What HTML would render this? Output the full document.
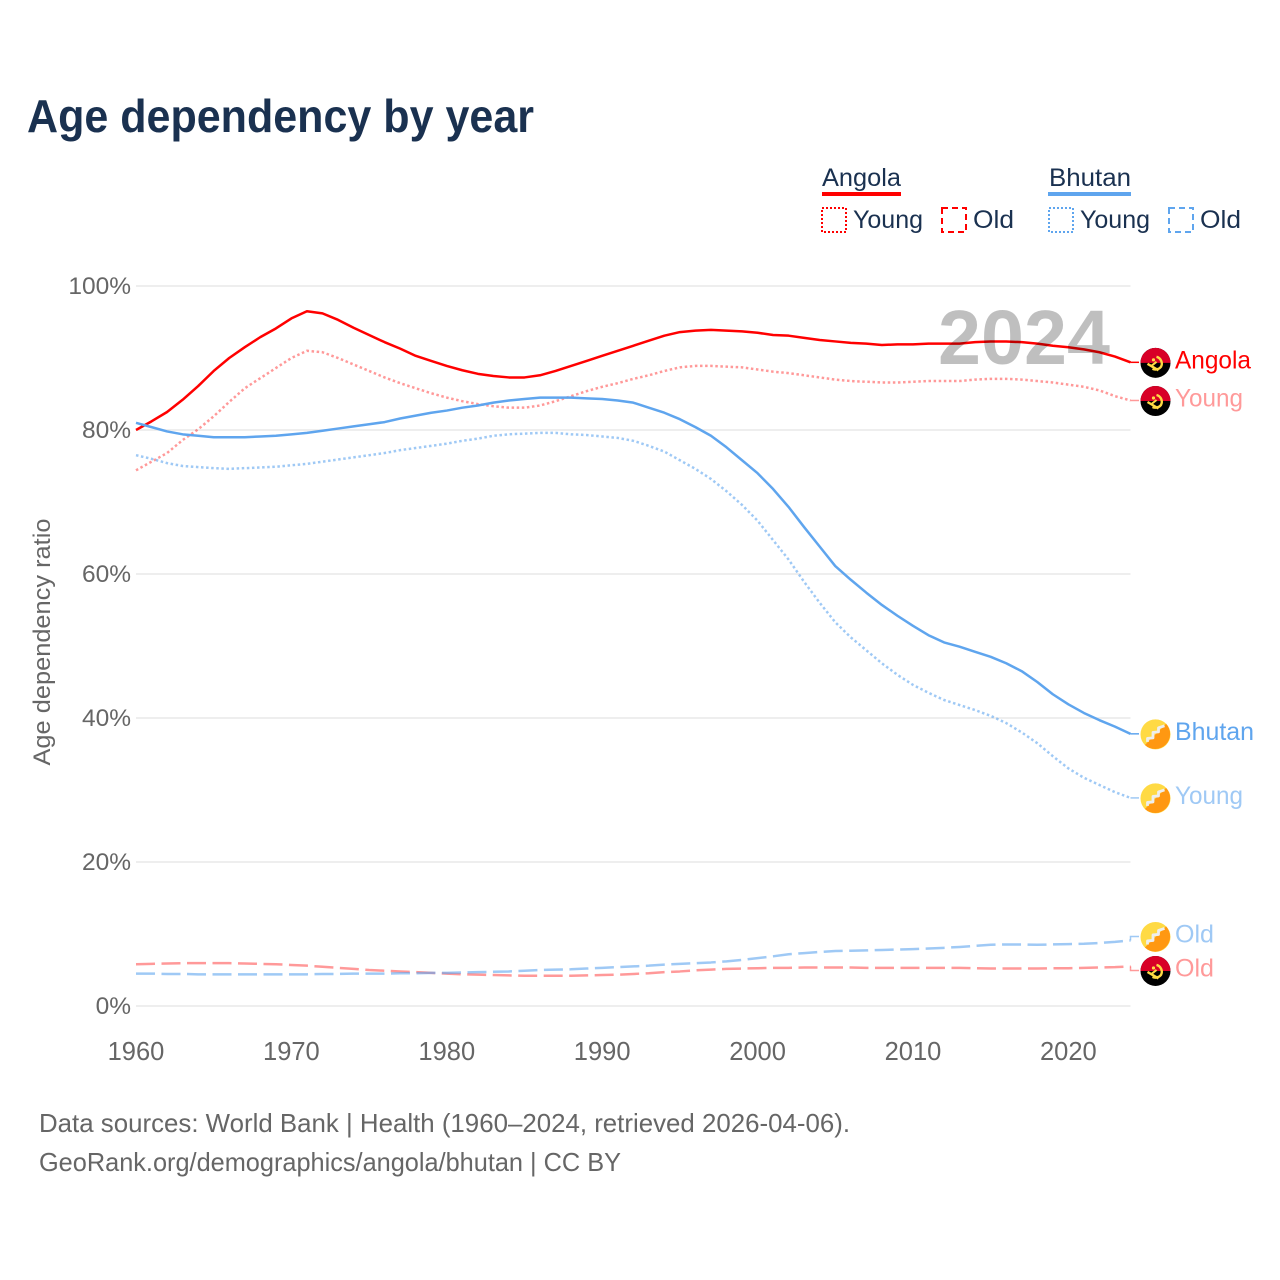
<!DOCTYPE html>
<html lang="en">
<head>
<meta charset="utf-8">
<title>Age dependency by year</title>
<style>
html,body{margin:0;padding:0;background:#fff;}
svg{display:block;font-family:"Liberation Sans",sans-serif;}
</style>
</head>
<body>
<svg id="chart" xmlns="http://www.w3.org/2000/svg" width="1280" height="1280" viewBox="0 0 1280 1280">
  <rect x="0" y="0" width="1280" height="1280" fill="#ffffff"/>
  <text x="27" y="132" font-size="46" font-weight="700" fill="#1a3150" textLength="507" lengthAdjust="spacingAndGlyphs">Age dependency by year</text>

  <g>
    <text x="822" y="186" font-size="25" fill="#1a3150" textLength="79" lengthAdjust="spacingAndGlyphs">Angola</text>
    <rect x="822" y="192" width="79" height="4" fill="#ff0000"/>
    <rect x="822" y="208" width="24" height="24" fill="none" stroke="#ff0000" stroke-width="2" stroke-dasharray="2 2"/>
    <text x="853" y="228" font-size="25" fill="#1a3150" textLength="70" lengthAdjust="spacingAndGlyphs">Young</text>
    <rect x="942" y="208" width="24" height="24" fill="none" stroke="#ff0000" stroke-width="2" stroke-dasharray="6 4"/>
    <text x="973" y="228" font-size="25" fill="#1a3150" textLength="41" lengthAdjust="spacingAndGlyphs">Old</text>
    <text x="1049" y="186" font-size="25" fill="#1a3150" textLength="82" lengthAdjust="spacingAndGlyphs">Bhutan</text>
    <rect x="1048" y="192" width="83" height="4" fill="#5fa5ee"/>
    <rect x="1049" y="208" width="24" height="24" fill="none" stroke="#5fa5ee" stroke-width="2" stroke-dasharray="2 2"/>
    <text x="1080" y="228" font-size="25" fill="#1a3150" textLength="70" lengthAdjust="spacingAndGlyphs">Young</text>
    <rect x="1169" y="208" width="24" height="24" fill="none" stroke="#5fa5ee" stroke-width="2" stroke-dasharray="6 4"/>
    <text x="1200" y="228" font-size="25" fill="#1a3150" textLength="41" lengthAdjust="spacingAndGlyphs">Old</text>
  </g>

  <g id="grid"></g>
  <g id="yticks"></g>
  <g id="xticks"></g>
  <text transform="translate(50,642) rotate(-90)" text-anchor="middle" font-size="24" fill="#666666" textLength="247" lengthAdjust="spacingAndGlyphs">Age dependency ratio</text>
  <g id="series"></g>
  <text x="938" y="364" font-size="77" font-weight="700" fill="#000000" fill-opacity="0.25" textLength="172" lengthAdjust="spacingAndGlyphs">2024</text>
  <g id="ends"></g>

  <text x="39" y="1132" font-size="26" fill="#666666" textLength="811" lengthAdjust="spacingAndGlyphs">Data sources: World Bank | Health (1960–2024, retrieved 2026-04-06).</text>
  <text x="39" y="1171" font-size="26" fill="#666666" textLength="582" lengthAdjust="spacingAndGlyphs">GeoRank.org/demographics/angola/bhutan | CC BY</text>
</svg>
<script>
const firstYear = 1960;
const lastYear = 2024;
const xTickYears = [1960, 1970, 1980, 1990, 2000, 2010, 2020];
const yTickValues = [0, 20, 40, 60, 80, 100];

const angolaTotal = [80.0,81.2,82.5,84.2,86.1,88.2,90.0,91.5,92.9,94.1,95.5,96.5,96.2,95.3,94.2,93.2,92.2,91.3,90.3,89.6,88.9,88.3,87.8,87.5,87.3,87.3,87.6,88.2,88.9,89.6,90.3,91.0,91.7,92.4,93.1,93.6,93.8,93.9,93.8,93.7,93.5,93.2,93.1,92.8,92.5,92.3,92.1,92.0,91.8,91.9,91.9,92.0,92.0,92.0,92.2,92.3,92.3,92.2,92.0,91.7,91.5,91.2,90.8,90.2,89.4];
const angolaYoung = [74.4,75.6,76.8,78.6,80.1,81.9,83.9,85.8,87.2,88.6,90.0,91.0,90.8,90.0,89.1,88.2,87.3,86.5,85.8,85.1,84.5,84.0,83.6,83.3,83.1,83.1,83.4,84.0,84.7,85.4,86.0,86.5,87.1,87.6,88.2,88.7,88.9,88.9,88.8,88.7,88.4,88.1,87.9,87.6,87.3,87.0,86.8,86.7,86.6,86.6,86.7,86.8,86.8,86.8,87.0,87.1,87.1,87.0,86.8,86.6,86.3,86.0,85.5,84.7,84.1];
const angolaOld = [5.8,5.85,5.9,5.95,5.95,5.95,5.95,5.9,5.85,5.8,5.7,5.6,5.45,5.3,5.15,5.0,4.9,4.8,4.7,4.6,4.5,4.4,4.35,4.3,4.25,4.2,4.2,4.2,4.2,4.25,4.3,4.35,4.45,4.55,4.7,4.8,4.95,5.05,5.15,5.2,5.25,5.3,5.3,5.35,5.35,5.35,5.35,5.3,5.3,5.3,5.3,5.3,5.3,5.3,5.25,5.2,5.2,5.2,5.2,5.25,5.25,5.3,5.35,5.4,5.5];
const bhutanTotal = [81.0,80.4,79.8,79.4,79.2,79.0,79.0,79.0,79.1,79.2,79.4,79.6,79.9,80.2,80.5,80.8,81.1,81.6,82.0,82.4,82.7,83.1,83.4,83.8,84.1,84.3,84.5,84.5,84.5,84.4,84.3,84.1,83.8,83.1,82.4,81.5,80.4,79.2,77.6,75.8,74.0,71.8,69.3,66.5,63.8,61.1,59.2,57.4,55.7,54.2,52.8,51.5,50.5,49.9,49.2,48.5,47.6,46.5,45.0,43.3,41.9,40.7,39.7,38.8,37.8];
const bhutanYoung = [76.5,76.0,75.4,75.0,74.85,74.7,74.6,74.7,74.8,74.9,75.1,75.3,75.6,75.9,76.2,76.5,76.8,77.2,77.5,77.8,78.1,78.5,78.8,79.2,79.4,79.5,79.6,79.6,79.4,79.3,79.1,78.9,78.5,77.8,77.0,75.8,74.6,73.2,71.5,69.6,67.4,64.7,62.0,58.9,56.0,53.3,51.2,49.4,47.6,46.0,44.6,43.5,42.5,41.8,41.1,40.3,39.3,38.0,36.5,34.7,33.0,31.7,30.7,29.7,28.9];
const bhutanOld = [4.5,4.5,4.45,4.45,4.4,4.4,4.4,4.4,4.4,4.4,4.4,4.4,4.45,4.45,4.5,4.5,4.5,4.55,4.55,4.6,4.6,4.65,4.7,4.75,4.8,4.9,5.0,5.05,5.1,5.2,5.3,5.4,5.5,5.6,5.75,5.85,5.95,6.05,6.2,6.4,6.65,6.9,7.18,7.35,7.5,7.64,7.68,7.72,7.78,7.84,7.9,7.98,8.08,8.2,8.35,8.5,8.55,8.55,8.5,8.55,8.6,8.65,8.75,8.9,9.1];

const seriesNames = ['angola-total', 'angola-young', 'angola-old', 'bhutan-total', 'bhutan-young', 'bhutan-old'];
const seriesValues = [angolaTotal, angolaYoung, angolaOld, bhutanTotal, bhutanYoung, bhutanOld];
const seriesLabels = ['Angola', 'Young', 'Old', 'Bhutan', 'Young', 'Old'];

const NS = 'http://www.w3.org/2000/svg';
const plot = { left: 136, right: 1130.5, top: 286, bottom: 1006 };
const x = function (year) { return plot.left + (year - firstYear) * (plot.right - plot.left) / (lastYear - firstYear); };
const y = function (value) { return plot.bottom - value * (plot.bottom - plot.top) / 100; };

function make(tag, attrs, parent, text) {
  const el = document.createElementNS(NS, tag);
  Object.keys(attrs).forEach(function (k) { el.setAttribute(k, attrs[k]); });
  if (text !== undefined) el.textContent = text;
  parent.appendChild(el);
  return el;
}

const gridG = document.getElementById('grid');
const yTickG = document.getElementById('yticks');
const xTickG = document.getElementById('xticks');
const seriesG = document.getElementById('series');
const endsG = document.getElementById('ends');

yTickValues.forEach(function (v) {
  const line = make('line', { x1: plot.left, x2: plot.right, y1: y(v), y2: y(v), stroke: '#e9e9e9', 'stroke-width': 1.5 }, gridG);
  
  
  const label = make('text', { x: 131, y: y(v) + 8, 'text-anchor': 'end', 'font-size': 24.5, fill: '#666666' }, yTickG, v + '%');
  
  
});

xTickYears.forEach(function (yr) {
  const label = make('text', { x: x(yr), y: 1060, 'text-anchor': 'middle', 'font-size': 25.5, fill: '#666666' }, xTickG, String(yr));
  
  
});

function lineStyle(index) {
  const isBhutan = index >= 3;
  const kind = index % 3;
  return {
    stroke: isBhutan ? '#5fa5ee' : '#ff0000',
    opacity: kind === 0 ? 1 : (isBhutan ? 0.6 : 0.4),
    width: 2.5,
    dash: kind === 0 ? 'none' : (kind === 1 ? '2.5 2.6' : '19 6.5')
  };
}

seriesValues.forEach(function (values, i) {
  const st = lineStyle(i);
  const d = values.map(function (v, k) {
    return (k ? 'L' : 'M') + x(firstYear + k).toFixed(2) + ',' + y(v).toFixed(2);
  }).join(' ');
  const path = make('path', { d: d, fill: 'none', stroke: st.stroke, 'stroke-opacity': st.opacity, 'stroke-width': st.width, 'stroke-dasharray': st.dash, 'stroke-linejoin': 'round' }, seriesG);
  
  
});

// Spread end labels so flags never overlap
const minGap = 34;
const order = seriesValues.map(function (values, i) {
  return { i: i, base: y(values[values.length - 1]), pos: y(values[values.length - 1]) };
}).sort(function (a, b) { return a.base - b.base; });
for (let pass = 0; pass < 8; pass++) {
  for (let k = 1; k < order.length; k++) {
    const overlap = minGap - (order[k].pos - order[k - 1].pos);
    if (overlap > 0) {
      order[k - 1].pos -= overlap / 2;
      order[k].pos += overlap / 2;
    }
  }
}

function drawAngolaFlag(g) {
  make('circle', { cx: 0, cy: 0, r: 15, fill: '#000000' }, g);
  make('path', { d: 'M-15,0 A15,15 0 0 1 15,0 Z', fill: '#d80027' }, g);
  make('path', { d: 'M1,-6 A7,7 0 0 1 5.500,4 A7,7 0 0 1 -3,6', fill: 'none', stroke: '#ffda44', 'stroke-width': 2.4 }, g);
  make('path', { d: 'M-8,1 L3,7.500', fill: 'none', stroke: '#ffda44', 'stroke-width': 2.4 }, g);
  make('circle', { cx: -2, cy: -3, r: 1.6, fill: '#ffda44' }, g);
  make('path', { d: 'M-4,3 L1,-1', fill: 'none', stroke: '#ffda44', 'stroke-width': 2 }, g);
}

function drawBhutanFlag(g) {
  make('circle', { cx: 0, cy: 0, r: 15, fill: '#ffda44' }, g);
  make('path', { d: 'M10.600,-10.600 A15,15 0 0 1 -10.600,10.600 Z', fill: '#ff9811' }, g);
  make('path', { d: 'M-8,7.500 L-8,4 L-2.500,3.500 L-2.500,-2 L3,-2.500 L3,-6.500 L9,-8.500', fill: 'none', stroke: '#eeeeee', 'stroke-width': 2.8, 'stroke-linejoin': 'round' }, g);
}

order.forEach(function (item) {
  const i = item.i;
  const st = lineStyle(i);
  const connector = make('path', {
    d: 'M' + plot.right + ',' + item.base.toFixed(2) + ' L' + plot.right + ',' + item.pos.toFixed(2) + ' L1139,' + item.pos.toFixed(2),
    fill: 'none', stroke: st.stroke, 'stroke-opacity': st.opacity, 'stroke-width': 1.5
  }, endsG);
  
  

  const flag = make('g', { transform: 'translate(1155.5,' + (item.pos + 0.5).toFixed(2) + ')' }, endsG);
  
  
  if (i < 3) drawAngolaFlag(flag); else drawBhutanFlag(flag);

  const widths = { Angola: 76, Young: 68, Bhutan: 79, Old: 39 };
  const label = make('text', {
    x: 1175, y: (item.pos + 6).toFixed(2), 'font-size': 25,
    fill: st.stroke, 'fill-opacity': st.opacity,
    textLength: widths[seriesLabels[i]], lengthAdjust: 'spacingAndGlyphs'
  }, endsG, seriesLabels[i]);
  
  
});
</script>
</body>
</html>
